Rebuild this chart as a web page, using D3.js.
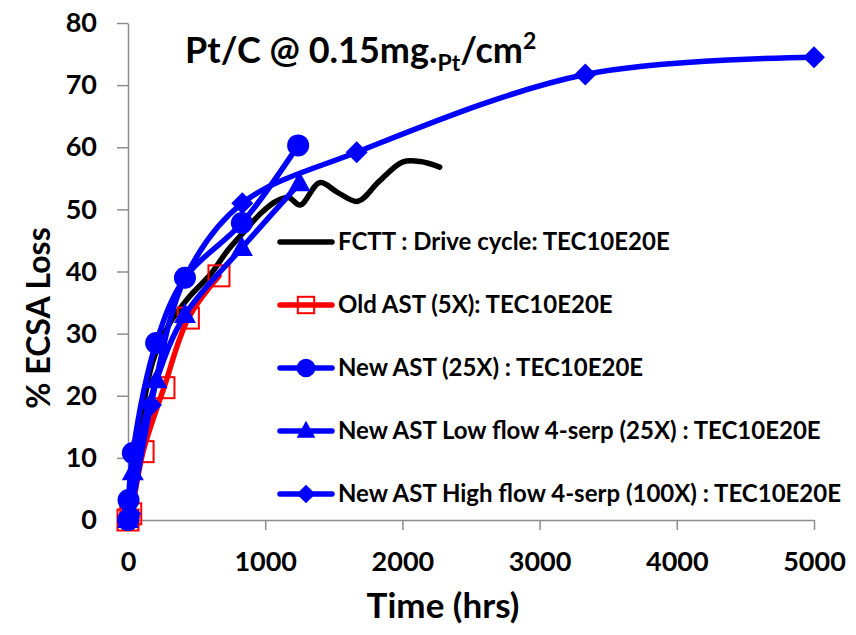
<!DOCTYPE html>
<html>
<head>
<meta charset="utf-8">
<script src="https://cdn.jsdelivr.net/npm/d3@7"></script>
<style>
  html, body { margin: 0; padding: 0; background: #fff; }
  svg { display: block; font-family: Lato, "Open Sans", sans-serif; font-weight: bold; }
</style>
</head>
<body>
<svg id="chart" width="856" height="635"></svg>
<script>
// ---- Data ----
const xTicks = [0, 1000, 2000, 3000, 4000, 5000];
const yTicks = [0, 10, 20, 30, 40, 50, 60, 70, 80];

const fcttHours = [0, 30, 80, 180, 300, 450, 600, 730, 850, 970, 1080, 1170, 1255, 1398, 1530, 1675, 1830, 2000, 2130, 2272];
const fcttLoss  = [0, 6, 14, 25.5, 31.5, 36, 39.5, 43.5, 46.5, 49.4, 51.3, 51.9, 50.7, 54.3, 52.7, 51.3, 54.5, 57.6, 57.7, 56.8];

const oldHours = [0, 20, 110, 262, 440, 663];
const oldLoss  = [0, 1, 11, 21.3, 32.5, 39.3];

const newHours = [0, 4, 35, 205, 415, 830, 1240];
const newLoss  = [0, 3.2, 10.8, 28.5, 39, 47.8, 60.3];

const lowHours = [0, 4, 35, 208, 415, 830, 1250];
const lowLoss  = [0, 1.5, 7.7, 22.5, 33, 43.8, 54.2];

const highHours = [0, 8, 17, 167, 417, 833, 1667, 3333, 5000];
const highLoss  = [0, 0.5, 1, 18.5, 39, 51, 59.2, 71.7, 74.5];

const seriesNames = [
  "FCTT : Drive cycle: TEC10E20E",
  "Old AST (5X): TEC10E20E",
  "New AST (25X) : TEC10E20E",
  "New AST Low flow 4-serp (25X) : TEC10E20E",
  "New AST High flow 4-serp (100X) : TEC10E20E"
];

// ---- Chart ----
const svg = d3.select("#chart");
const x = d3.scaleLinear().domain([0, 5000]).range([128, 814]);
const y = d3.scaleLinear().domain([0, 80]).range([520, 23]);

const axisColor = "#8c8c8c";

const gx = svg.append("g").attr("transform", "translate(0,520)")
  .call(d3.axisBottom(x).tickValues(xTicks).tickSize(10).tickSizeOuter(0).tickFormat(d3.format("d")));
gx.select(".domain").attr("stroke", axisColor).attr("stroke-width", 1.5);
gx.selectAll(".tick line").attr("stroke", axisColor).attr("stroke-width", 1.5);
gx.selectAll(".tick text").attr("y", 51).attr("dy", 0)
  .attr("font-size", 27).attr("font-family", "Lato").attr("font-weight", "bold").attr("fill", "#000");

const gy = svg.append("g").attr("transform", "translate(128,0)")
  .call(d3.axisLeft(y).tickValues(yTicks).tickSize(11).tickSizeOuter(0).tickPadding(20));
gy.select(".domain").attr("stroke", axisColor).attr("stroke-width", 1.5);
gy.selectAll(".tick line").attr("stroke", axisColor).attr("stroke-width", 1.5);
gy.selectAll(".tick text").attr("font-size", 27).attr("font-family", "Lato").attr("font-weight", "bold").attr("fill", "#000");

// axis titles
svg.append("text").attr("x", 443).attr("y", 618).attr("text-anchor", "middle")
  .attr("font-size", 35).text("Time (hrs)");
svg.append("text").attr("transform", "translate(50,318) rotate(-90)").attr("text-anchor", "middle")
  .attr("font-size", 32).text("% ECSA Loss");

// title
const title = svg.append("text").attr("x", 185).attr("y", 63).attr("font-size", 36);
title.append("tspan").text("Pt/C @ 0.15mg.");
title.append("tspan").attr("font-size", 23).attr("dy", 8).text("Pt");
title.append("tspan").attr("dy", -8).text("/cm");
title.append("tspan").attr("font-size", 23).attr("dy", -14).text("2");

// series
const blue = "#0000ff", red = "#ff0000";
const curve = d3.curveCatmullRom.alpha(0.5);
const line = d3.line().x(d => x(d[0])).y(d => y(d[1])).curve(curve);
const zip = (a, b) => a.map((v, i) => [v, b[i]]);

const series = [
  { pts: zip(fcttHours, fcttLoss), color: "#000", marker: null },
  { pts: zip(oldHours, oldLoss), color: red, marker: "square" },
  { pts: zip(newHours, newLoss), color: blue, marker: "circle" },
  { pts: zip(lowHours, lowLoss), color: blue, marker: "triangle" },
  { pts: zip(highHours, highLoss), color: blue, marker: "diamond" }
];

function drawMarker(g, type, cx, cy, color, scale) {
  const s = scale || 1;
  if (type === "circle") {
    g.append("circle").attr("cx", cx).attr("cy", cy).attr("r", 11 * s).attr("fill", color);
  } else if (type === "triangle") {
    const h = 20 * s, w = 22 * s;
    g.append("path").attr("d", `M${cx},${cy - h * 0.6} L${cx + w / 2},${cy + h * 0.4} L${cx - w / 2},${cy + h * 0.4} Z`).attr("fill", color);
  } else if (type === "diamond") {
    const r = 11 * s;
    g.append("path").attr("d", `M${cx},${cy - r} L${cx + r},${cy} L${cx},${cy + r} L${cx - r},${cy} Z`).attr("fill", color);
  } else if (type === "square") {
    const r = 10.5 * s;
    g.append("rect").attr("x", cx - r).attr("y", cy - r).attr("width", 2 * r).attr("height", 2 * r)
      .attr("fill", "none").attr("stroke", color).attr("stroke-width", 2);
  }
}

series.forEach(sr => {
  const g = svg.append("g");
  g.append("path").attr("d", line(sr.pts)).attr("fill", "none").attr("stroke", sr.color)
    .attr("stroke-width", 5.5).attr("stroke-linecap", "round").attr("stroke-linejoin", "round");
  if (sr.marker) sr.pts.forEach(p => drawMarker(g, sr.marker, x(p[0]), y(p[1]), sr.color, 1));
});

// legend
const legendY = [242, 305, 368, 431, 494];
series.forEach((sr, i) => {
  const g = svg.append("g");
  const ly = legendY[i];
  g.append("line").attr("x1", 280).attr("x2", 332).attr("y1", ly).attr("y2", ly)
    .attr("stroke", sr.color).attr("stroke-width", 5.5).attr("stroke-linecap", "round");
  if (sr.marker) drawMarker(g, sr.marker, 306, ly, sr.color, sr.marker === "square" ? 0.78 : 0.85);
  g.append("text").attr("x", 338).attr("y", ly + 8).attr("font-size", 24).text(seriesNames[i]);
});
</script>
</body>
</html>
